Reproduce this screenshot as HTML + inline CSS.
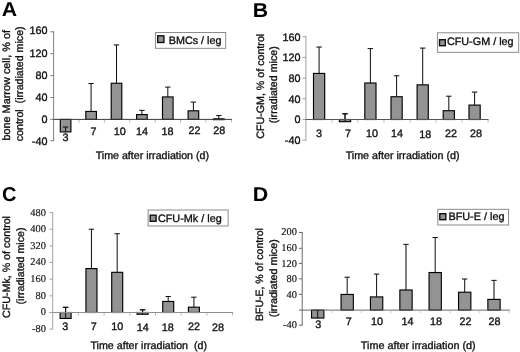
<!DOCTYPE html>
<html><head><meta charset="utf-8"><title>Figure</title>
<style>
html,body{margin:0;padding:0;background:#fff;}
body{width:520px;height:352px;overflow:hidden;font-family:"Liberation Sans", sans-serif;}
svg{display:block;will-change:transform;}
text.t{stroke:#0c0c0c;stroke-width:0.32px;}
text.s{stroke:#0c0c0c;stroke-width:0.12px;}
</style></head><body>
<svg width="520" height="352" viewBox="0 0 520 352" text-rendering="geometricPrecision">
<defs><filter id="soft" x="0" y="0" width="520" height="352" filterUnits="userSpaceOnUse"><feGaussianBlur stdDeviation="0.38"/></filter></defs>
<rect width="520" height="352" fill="#fff"/>
<g filter="url(#soft)">
<text transform="translate(1.7,16.2) scale(1.06,1)" font-family='"Liberation Sans", sans-serif' font-weight="700" font-size="20" fill="#000">A</text>
<text class="t" transform="translate(10.1,85.3) rotate(-90)" text-anchor="middle" font-family='"Liberation Sans", sans-serif' font-size="10.8" fill="#0c0c0c" textLength="110.6" lengthAdjust="spacingAndGlyphs" xml:space="preserve">bone Marrow cell, % of</text>
<text class="t" transform="translate(23.4,83.85) rotate(-90)" text-anchor="middle" font-family='"Liberation Sans", sans-serif' font-size="10.8" fill="#0c0c0c" textLength="114.9" lengthAdjust="spacingAndGlyphs" xml:space="preserve">control  (irradiated mice)</text>
<path d="M65.60 131.91V127.01M62.90 127.01H68.30" stroke="#0c0c0c" stroke-width="1" fill="none"/>
<rect x="60.30" y="119.40" width="10.60" height="12.51" fill="#939393" stroke="#050505" stroke-width="1.15"/>
<path d="M65.60 131.91V127.01M62.90 127.01H68.30" stroke="#0c0c0c" stroke-width="1" fill="none"/>
<path d="M91.10 111.46V83.54M88.40 83.54H93.80" stroke="#0c0c0c" stroke-width="1" fill="none"/>
<rect x="85.80" y="111.46" width="10.60" height="7.94" fill="#939393" stroke="#050505" stroke-width="1.15"/>
<path d="M116.50 83.27V44.94M113.80 44.94H119.20" stroke="#0c0c0c" stroke-width="1" fill="none"/>
<rect x="111.20" y="83.27" width="10.60" height="36.13" fill="#939393" stroke="#050505" stroke-width="1.15"/>
<path d="M141.90 114.58V110.37M139.20 110.37H144.60" stroke="#0c0c0c" stroke-width="1" fill="none"/>
<rect x="136.60" y="114.58" width="10.60" height="4.82" fill="#939393" stroke="#050505" stroke-width="1.15"/>
<path d="M167.80 96.95V87.10M165.10 87.10H170.50" stroke="#0c0c0c" stroke-width="1" fill="none"/>
<rect x="162.50" y="96.95" width="10.60" height="22.45" fill="#939393" stroke="#050505" stroke-width="1.15"/>
<path d="M193.40 110.80V102.10M190.70 102.10H196.10" stroke="#0c0c0c" stroke-width="1" fill="none"/>
<rect x="188.10" y="110.80" width="10.60" height="8.60" fill="#939393" stroke="#050505" stroke-width="1.15"/>
<path d="M218.80 118.85V115.57M216.10 115.57H221.50" stroke="#0c0c0c" stroke-width="1" fill="none"/>
<rect x="213.50" y="118.85" width="10.60" height="0.80" fill="#939393" stroke="#050505" stroke-width="1.15"/>
<path d="M53.6 31.30V141.20" stroke="#808080" stroke-width="1" fill="none"/>
<path d="M53.1 119.4H231.9" stroke="#3a3a3a" stroke-width="1" fill="none"/>
<path d="M50.300000000000004 140.70H53.6" stroke="#808080" stroke-width="1" fill="none"/>
<text class="t" x="47.4" y="145.40" text-anchor="end" font-family='"Liberation Sans", sans-serif' font-size="10.8" fill="#0c0c0c">-40</text>
<path d="M50.300000000000004 119.40H53.6" stroke="#808080" stroke-width="1" fill="none"/>
<text class="t" x="47.4" y="123.30" text-anchor="end" font-family='"Liberation Sans", sans-serif' font-size="10.8" fill="#0c0c0c">0</text>
<path d="M50.300000000000004 97.50H53.6" stroke="#808080" stroke-width="1" fill="none"/>
<text class="t" x="47.4" y="101.10" text-anchor="end" font-family='"Liberation Sans", sans-serif' font-size="10.8" fill="#0c0c0c">40</text>
<path d="M50.300000000000004 75.60H53.6" stroke="#808080" stroke-width="1" fill="none"/>
<text class="t" x="47.4" y="79.10" text-anchor="end" font-family='"Liberation Sans", sans-serif' font-size="10.8" fill="#0c0c0c">80</text>
<path d="M50.300000000000004 53.70H53.6" stroke="#808080" stroke-width="1" fill="none"/>
<text class="t" x="47.4" y="57.30" text-anchor="end" font-family='"Liberation Sans", sans-serif' font-size="10.8" fill="#0c0c0c">120</text>
<path d="M50.300000000000004 31.80H53.6" stroke="#808080" stroke-width="1" fill="none"/>
<text class="t" x="47.4" y="34.40" text-anchor="end" font-family='"Liberation Sans", sans-serif' font-size="10.8" fill="#0c0c0c">160</text>
<path d="M79.00 119.9v2.6" stroke="#b4b4b4" stroke-width="1" fill="none"/>
<path d="M104.40 119.9v2.6" stroke="#b4b4b4" stroke-width="1" fill="none"/>
<path d="M129.80 119.9v2.6" stroke="#b4b4b4" stroke-width="1" fill="none"/>
<path d="M155.20 119.9v2.6" stroke="#b4b4b4" stroke-width="1" fill="none"/>
<path d="M180.60 119.9v2.6" stroke="#b4b4b4" stroke-width="1" fill="none"/>
<path d="M206.00 119.9v2.6" stroke="#b4b4b4" stroke-width="1" fill="none"/>
<path d="M231.40 119.9v2.6" stroke="#b4b4b4" stroke-width="1" fill="none"/>
<text class="t" x="65.60" y="141.4" text-anchor="middle" font-family='"Liberation Sans", sans-serif' font-size="10.8" fill="#0c0c0c">3</text>
<text class="t" x="93.40" y="134.8" text-anchor="middle" font-family='"Liberation Sans", sans-serif' font-size="10.8" fill="#0c0c0c">7</text>
<text class="t" x="119.80" y="134.8" text-anchor="middle" font-family='"Liberation Sans", sans-serif' font-size="10.8" fill="#0c0c0c">10</text>
<text class="t" x="142.00" y="134.5" text-anchor="middle" font-family='"Liberation Sans", sans-serif' font-size="10.8" fill="#0c0c0c">14</text>
<text class="t" x="167.60" y="135.4" text-anchor="middle" font-family='"Liberation Sans", sans-serif' font-size="10.8" fill="#0c0c0c">18</text>
<text class="t" x="194.40" y="134.4" text-anchor="middle" font-family='"Liberation Sans", sans-serif' font-size="10.8" fill="#0c0c0c">22</text>
<text class="t" x="219.20" y="134.3" text-anchor="middle" font-family='"Liberation Sans", sans-serif' font-size="10.8" fill="#0c0c0c">28</text>
<text class="t" x="95.7" y="158.6" font-family='"Liberation Sans", sans-serif' font-size="10.8" fill="#0c0c0c" textLength="113.3" lengthAdjust="spacingAndGlyphs" xml:space="preserve">Time after irradiation (d)</text>
<rect x="155.4" y="32.5" width="70.29999999999998" height="15.799999999999997" fill="#fff" stroke="#7f7f7f" stroke-width="0.9"/>
<rect x="157.70" y="35.80" width="6.20" height="6.70" fill="#939393" stroke="#111" stroke-width="1.4"/>
<text class="t" x="168.8" y="43.5" font-family='"Liberation Sans", sans-serif' font-size="10.8" fill="#0c0c0c" textLength="52.69999999999999" lengthAdjust="spacingAndGlyphs">BMCs / leg</text>
<text transform="translate(252.8,16.9) scale(1.06,1)" font-family='"Liberation Sans", sans-serif' font-weight="700" font-size="20" fill="#000">B</text>
<text class="t" transform="translate(264.2,86.3) rotate(-90)" text-anchor="middle" font-family='"Liberation Sans", sans-serif' font-size="10.7" fill="#0c0c0c" textLength="105" lengthAdjust="spacingAndGlyphs" xml:space="preserve">CFU-GM, % of control</text>
<text class="t" transform="translate(277.0,84.8) rotate(-90)" text-anchor="middle" font-family='"Liberation Sans", sans-serif' font-size="10.7" fill="#0c0c0c" textLength="77" lengthAdjust="spacingAndGlyphs" xml:space="preserve">(irradiated mice)</text>
<path d="M319.10 73.44V47.05M316.40 47.05H321.80" stroke="#0c0c0c" stroke-width="1" fill="none"/>
<rect x="313.50" y="73.44" width="11.20" height="46.06" fill="#939393" stroke="#050505" stroke-width="1.15"/>
<path d="M345.00 121.67V113.81M342.30 113.81H347.70" stroke="#0c0c0c" stroke-width="1" fill="none"/>
<rect x="339.40" y="119.50" width="11.20" height="2.17" fill="#939393" stroke="#050505" stroke-width="1.15"/>
<path d="M345.00 121.67V113.81M342.30 113.81H347.70" stroke="#0c0c0c" stroke-width="1" fill="none"/>
<path d="M370.40 83.02V48.60M367.70 48.60H373.10" stroke="#0c0c0c" stroke-width="1" fill="none"/>
<rect x="364.80" y="83.02" width="11.20" height="36.48" fill="#939393" stroke="#050505" stroke-width="1.15"/>
<path d="M396.60 96.73V75.77M393.90 75.77H399.30" stroke="#0c0c0c" stroke-width="1" fill="none"/>
<rect x="391.00" y="96.73" width="11.20" height="22.77" fill="#939393" stroke="#050505" stroke-width="1.15"/>
<path d="M422.70 84.83V48.09M420.00 48.09H425.40" stroke="#0c0c0c" stroke-width="1" fill="none"/>
<rect x="417.10" y="84.83" width="11.20" height="34.67" fill="#939393" stroke="#050505" stroke-width="1.15"/>
<path d="M448.80 110.70V96.21M446.10 96.21H451.50" stroke="#0c0c0c" stroke-width="1" fill="none"/>
<rect x="443.20" y="110.70" width="11.20" height="8.80" fill="#939393" stroke="#050505" stroke-width="1.15"/>
<path d="M474.60 105.11V92.07M471.90 92.07H477.30" stroke="#0c0c0c" stroke-width="1" fill="none"/>
<rect x="469.00" y="105.11" width="11.20" height="14.39" fill="#939393" stroke="#050505" stroke-width="1.15"/>
<path d="M305.9 36.20V140.70" stroke="#a0a0a0" stroke-width="1" fill="none"/>
<path d="M305.4 119.5H488.6" stroke="#555" stroke-width="1" fill="none"/>
<path d="M302.59999999999997 140.20H305.9" stroke="#a0a0a0" stroke-width="1" fill="none"/>
<text class="t" x="300.4" y="144.00" text-anchor="end" font-family='"Liberation Sans", sans-serif' font-size="10.8" fill="#0c0c0c">-40</text>
<path d="M302.59999999999997 119.50H305.9" stroke="#a0a0a0" stroke-width="1" fill="none"/>
<text class="t" x="300.4" y="123.30" text-anchor="end" font-family='"Liberation Sans", sans-serif' font-size="10.8" fill="#0c0c0c">0</text>
<path d="M302.59999999999997 98.80H305.9" stroke="#a0a0a0" stroke-width="1" fill="none"/>
<text class="t" x="300.4" y="102.60" text-anchor="end" font-family='"Liberation Sans", sans-serif' font-size="10.8" fill="#0c0c0c">40</text>
<path d="M302.59999999999997 78.10H305.9" stroke="#a0a0a0" stroke-width="1" fill="none"/>
<text class="t" x="300.4" y="81.90" text-anchor="end" font-family='"Liberation Sans", sans-serif' font-size="10.8" fill="#0c0c0c">80</text>
<path d="M302.59999999999997 57.40H305.9" stroke="#a0a0a0" stroke-width="1" fill="none"/>
<text class="t" x="300.4" y="61.20" text-anchor="end" font-family='"Liberation Sans", sans-serif' font-size="10.8" fill="#0c0c0c">120</text>
<path d="M302.59999999999997 36.70H305.9" stroke="#a0a0a0" stroke-width="1" fill="none"/>
<text class="t" x="300.4" y="40.50" text-anchor="end" font-family='"Liberation Sans", sans-serif' font-size="10.8" fill="#0c0c0c">160</text>
<path d="M331.93 120.0v2.6" stroke="#b8b8b8" stroke-width="1" fill="none"/>
<path d="M357.96 120.0v2.6" stroke="#b8b8b8" stroke-width="1" fill="none"/>
<path d="M383.99 120.0v2.6" stroke="#b8b8b8" stroke-width="1" fill="none"/>
<path d="M410.01 120.0v2.6" stroke="#b8b8b8" stroke-width="1" fill="none"/>
<path d="M436.04 120.0v2.6" stroke="#b8b8b8" stroke-width="1" fill="none"/>
<path d="M462.07 120.0v2.6" stroke="#b8b8b8" stroke-width="1" fill="none"/>
<path d="M488.10 120.0v2.6" stroke="#b8b8b8" stroke-width="1" fill="none"/>
<text class="t" x="319.00" y="137.2" text-anchor="middle" font-family='"Liberation Sans", sans-serif' font-size="10.8" fill="#0c0c0c">3</text>
<text class="t" x="348.00" y="137.2" text-anchor="middle" font-family='"Liberation Sans", sans-serif' font-size="10.8" fill="#0c0c0c">7</text>
<text class="t" x="371.90" y="137.2" text-anchor="middle" font-family='"Liberation Sans", sans-serif' font-size="10.8" fill="#0c0c0c">10</text>
<text class="t" x="397.10" y="136.8" text-anchor="middle" font-family='"Liberation Sans", sans-serif' font-size="10.8" fill="#0c0c0c">14</text>
<text class="t" x="425.30" y="137.5" text-anchor="middle" font-family='"Liberation Sans", sans-serif' font-size="10.8" fill="#0c0c0c">18</text>
<text class="t" x="451.00" y="137.1" text-anchor="middle" font-family='"Liberation Sans", sans-serif' font-size="10.8" fill="#0c0c0c">22</text>
<text class="t" x="475.90" y="137.0" text-anchor="middle" font-family='"Liberation Sans", sans-serif' font-size="10.8" fill="#0c0c0c">28</text>
<text class="t" x="345.7" y="158.6" font-family='"Liberation Sans", sans-serif' font-size="10.8" fill="#0c0c0c" textLength="113.80000000000001" lengthAdjust="spacingAndGlyphs" xml:space="preserve">Time after irradiation (d)</text>
<rect x="437.4" y="32.8" width="81.30000000000007" height="19.5" fill="#fff" stroke="#7f7f7f" stroke-width="0.9"/>
<rect x="439.50" y="39.70" width="5.80" height="6.00" fill="#939393" stroke="#111" stroke-width="1.4"/>
<text class="t" x="446.9" y="45.2" font-family='"Liberation Sans", sans-serif' font-size="10.8" fill="#0c0c0c" textLength="66.70000000000005" lengthAdjust="spacingAndGlyphs">CFU-GM / leg</text>
<text transform="translate(2.0,201.2) scale(1.0,1)" font-family='"Liberation Sans", sans-serif' font-weight="700" font-size="20" fill="#000">C</text>
<text class="t" transform="translate(10.4,267) rotate(-90)" text-anchor="middle" font-family='"Liberation Sans", sans-serif' font-size="10.6" fill="#0c0c0c" textLength="102" lengthAdjust="spacingAndGlyphs" xml:space="preserve">CFU-Mk, % of control</text>
<text class="t" transform="translate(23.7,266) rotate(-90)" text-anchor="middle" font-family='"Liberation Sans", sans-serif' font-size="10.6" fill="#0c0c0c" textLength="77" lengthAdjust="spacingAndGlyphs" xml:space="preserve">(irradiated mice)</text>
<path d="M65.60 318.43V307.30M62.90 307.30H68.30" stroke="#0c0c0c" stroke-width="1" fill="none"/>
<rect x="60.10" y="312.50" width="11.00" height="5.93" fill="#939393" stroke="#050505" stroke-width="1.15"/>
<path d="M65.60 318.43V307.30M62.90 307.30H68.30" stroke="#0c0c0c" stroke-width="1" fill="none"/>
<path d="M91.45 268.59V229.25M88.75 229.25H94.15" stroke="#0c0c0c" stroke-width="1" fill="none"/>
<rect x="85.95" y="268.59" width="11.00" height="43.91" fill="#939393" stroke="#050505" stroke-width="1.15"/>
<path d="M117.20 272.33V233.72M114.50 233.72H119.90" stroke="#0c0c0c" stroke-width="1" fill="none"/>
<rect x="111.70" y="272.33" width="11.00" height="40.17" fill="#939393" stroke="#050505" stroke-width="1.15"/>
<path d="M142.60 314.27V309.79M139.90 309.79H145.30" stroke="#0c0c0c" stroke-width="1" fill="none"/>
<rect x="137.10" y="312.50" width="11.00" height="1.77" fill="#939393" stroke="#050505" stroke-width="1.15"/>
<path d="M142.60 314.27V309.79M139.90 309.79H145.30" stroke="#0c0c0c" stroke-width="1" fill="none"/>
<path d="M168.20 301.47V296.47M165.50 296.47H170.90" stroke="#0c0c0c" stroke-width="1" fill="none"/>
<rect x="162.70" y="301.47" width="11.00" height="11.03" fill="#939393" stroke="#050505" stroke-width="1.15"/>
<path d="M193.90 307.19V297.20M191.20 297.20H196.60" stroke="#0c0c0c" stroke-width="1" fill="none"/>
<rect x="188.40" y="307.19" width="11.00" height="5.31" fill="#939393" stroke="#050505" stroke-width="1.15"/>
<path d="M52.7 212.10V329.65" stroke="#a4a4a4" stroke-width="1" fill="none"/>
<path d="M52.2 312.5H233.1" stroke="#909090" stroke-width="1" fill="none"/>
<path d="M49.400000000000006 329.15H52.7" stroke="#a4a4a4" stroke-width="1" fill="none"/>
<text class="s" x="45.900000000000006" y="332.05" text-anchor="end" font-family='"Liberation Serif", serif' font-size="10.4" fill="#0c0c0c">-80</text>
<path d="M49.400000000000006 312.50H52.7" stroke="#a4a4a4" stroke-width="1" fill="none"/>
<text class="s" x="45.900000000000006" y="315.40" text-anchor="end" font-family='"Liberation Serif", serif' font-size="10.4" fill="#0c0c0c">0</text>
<path d="M49.400000000000006 295.85H52.7" stroke="#a4a4a4" stroke-width="1" fill="none"/>
<text class="s" x="45.900000000000006" y="298.75" text-anchor="end" font-family='"Liberation Serif", serif' font-size="10.4" fill="#0c0c0c">80</text>
<path d="M49.400000000000006 279.20H52.7" stroke="#a4a4a4" stroke-width="1" fill="none"/>
<text class="s" x="45.900000000000006" y="282.10" text-anchor="end" font-family='"Liberation Serif", serif' font-size="10.4" fill="#0c0c0c">160</text>
<path d="M49.400000000000006 262.55H52.7" stroke="#a4a4a4" stroke-width="1" fill="none"/>
<text class="s" x="45.900000000000006" y="265.45" text-anchor="end" font-family='"Liberation Serif", serif' font-size="10.4" fill="#0c0c0c">240</text>
<path d="M49.400000000000006 245.90H52.7" stroke="#a4a4a4" stroke-width="1" fill="none"/>
<text class="s" x="45.900000000000006" y="248.80" text-anchor="end" font-family='"Liberation Serif", serif' font-size="10.4" fill="#0c0c0c">320</text>
<path d="M49.400000000000006 229.25H52.7" stroke="#a4a4a4" stroke-width="1" fill="none"/>
<text class="s" x="45.900000000000006" y="232.15" text-anchor="end" font-family='"Liberation Serif", serif' font-size="10.4" fill="#0c0c0c">400</text>
<path d="M49.400000000000006 212.60H52.7" stroke="#a4a4a4" stroke-width="1" fill="none"/>
<text class="s" x="45.900000000000006" y="215.50" text-anchor="end" font-family='"Liberation Serif", serif' font-size="10.4" fill="#0c0c0c">480</text>
<path d="M78.40 313.0v2.6" stroke="#b8b8b8" stroke-width="1" fill="none"/>
<path d="M104.10 313.0v2.6" stroke="#b8b8b8" stroke-width="1" fill="none"/>
<path d="M129.80 313.0v2.6" stroke="#b8b8b8" stroke-width="1" fill="none"/>
<path d="M155.50 313.0v2.6" stroke="#b8b8b8" stroke-width="1" fill="none"/>
<path d="M181.20 313.0v2.6" stroke="#b8b8b8" stroke-width="1" fill="none"/>
<path d="M206.90 313.0v2.6" stroke="#b8b8b8" stroke-width="1" fill="none"/>
<path d="M232.60 313.0v2.6" stroke="#b8b8b8" stroke-width="1" fill="none"/>
<text class="t" x="65.30" y="330.2" text-anchor="middle" font-family='"Liberation Sans", sans-serif' font-size="10.8" fill="#0c0c0c">3</text>
<text class="t" x="93.70" y="330.4" text-anchor="middle" font-family='"Liberation Sans", sans-serif' font-size="10.8" fill="#0c0c0c">7</text>
<text class="t" x="117.20" y="330.4" text-anchor="middle" font-family='"Liberation Sans", sans-serif' font-size="10.8" fill="#0c0c0c">10</text>
<text class="t" x="142.80" y="330.5" text-anchor="middle" font-family='"Liberation Sans", sans-serif' font-size="10.8" fill="#0c0c0c">14</text>
<text class="t" x="167.80" y="330.5" text-anchor="middle" font-family='"Liberation Sans", sans-serif' font-size="10.8" fill="#0c0c0c">18</text>
<text class="t" x="194.10" y="329.9" text-anchor="middle" font-family='"Liberation Sans", sans-serif' font-size="10.8" fill="#0c0c0c">22</text>
<text class="t" x="218.10" y="330.5" text-anchor="middle" font-family='"Liberation Sans", sans-serif' font-size="10.8" fill="#0c0c0c">28</text>
<text class="t" x="90.4" y="348.6" font-family='"Liberation Sans", sans-serif' font-size="10.8" fill="#0c0c0c" textLength="116.69999999999999" lengthAdjust="spacingAndGlyphs" xml:space="preserve">Time after irradiation  (d)</text>
<rect x="148.1" y="210" width="80.0" height="16" fill="#fff" stroke="#7f7f7f" stroke-width="0.9"/>
<rect x="150.20" y="215.20" width="5.90" height="6.10" fill="#939393" stroke="#111" stroke-width="1.4"/>
<text class="t" x="157.9" y="222.1" font-family='"Liberation Sans", sans-serif' font-size="10.8" fill="#0c0c0c" textLength="63.79999999999998" lengthAdjust="spacingAndGlyphs">CFU-Mk / leg</text>
<text transform="translate(252.8,200.7) scale(1.07,1)" font-family='"Liberation Sans", sans-serif' font-weight="700" font-size="20" fill="#000">D</text>
<text class="t" transform="translate(263.3,274.6) rotate(-90)" text-anchor="middle" font-family='"Liberation Sans", sans-serif' font-size="10.6" fill="#0c0c0c" textLength="92.8" lengthAdjust="spacingAndGlyphs" xml:space="preserve">BFU-E, % of control</text>
<text class="t" transform="translate(277.1,278.2) rotate(-90)" text-anchor="middle" font-family='"Liberation Sans", sans-serif' font-size="10.6" fill="#0c0c0c" textLength="78" lengthAdjust="spacingAndGlyphs" xml:space="preserve">(irradiated mice)</text>
<path d="M317.70 318.03V310.48M315.00 310.48H320.40" stroke="#0c0c0c" stroke-width="1" fill="none"/>
<rect x="311.55" y="310.10" width="12.30" height="7.93" fill="#939393" stroke="#050505" stroke-width="1.15"/>
<path d="M317.70 318.03V310.48M315.00 310.48H320.40" stroke="#0c0c0c" stroke-width="1" fill="none"/>
<path d="M347.20 294.45V277.24M344.50 277.24H349.90" stroke="#0c0c0c" stroke-width="1" fill="none"/>
<rect x="341.05" y="294.45" width="12.30" height="15.65" fill="#939393" stroke="#050505" stroke-width="1.15"/>
<path d="M376.60 296.91V274.11M373.90 274.11H379.30" stroke="#0c0c0c" stroke-width="1" fill="none"/>
<rect x="370.45" y="296.91" width="12.30" height="13.19" fill="#939393" stroke="#050505" stroke-width="1.15"/>
<path d="M406.00 289.99V244.37M403.30 244.37H408.70" stroke="#0c0c0c" stroke-width="1" fill="none"/>
<rect x="399.85" y="289.99" width="12.30" height="20.11" fill="#939393" stroke="#050505" stroke-width="1.15"/>
<path d="M435.20 272.54V237.52M432.50 237.52H437.90" stroke="#0c0c0c" stroke-width="1" fill="none"/>
<rect x="429.05" y="272.54" width="12.30" height="37.56" fill="#939393" stroke="#050505" stroke-width="1.15"/>
<path d="M464.70 292.22V279.00M462.00 279.00H467.40" stroke="#0c0c0c" stroke-width="1" fill="none"/>
<rect x="458.55" y="292.22" width="12.30" height="17.88" fill="#939393" stroke="#050505" stroke-width="1.15"/>
<path d="M494.00 299.42V280.37M491.30 280.37H496.70" stroke="#0c0c0c" stroke-width="1" fill="none"/>
<rect x="487.85" y="299.42" width="12.30" height="10.68" fill="#939393" stroke="#050505" stroke-width="1.15"/>
<path d="M302.2 232.00V325.70" stroke="#6a6a6a" stroke-width="1" fill="none"/>
<path d="M301.7 310.1H509.9" stroke="#666" stroke-width="1" fill="none"/>
<path d="M298.9 325.20H302.2" stroke="#6a6a6a" stroke-width="1" fill="none"/>
<text class="s" x="296.9" y="328.10" text-anchor="end" font-family='"Liberation Serif", serif' font-size="10.4" fill="#0c0c0c">-40</text>
<path d="M298.9 310.10H302.2" stroke="#6a6a6a" stroke-width="1" fill="none"/>
<path d="M298.9 294.40H302.2" stroke="#6a6a6a" stroke-width="1" fill="none"/>
<text class="s" x="296.9" y="297.50" text-anchor="end" font-family='"Liberation Serif", serif' font-size="10.4" fill="#0c0c0c">40</text>
<path d="M298.9 278.80H302.2" stroke="#6a6a6a" stroke-width="1" fill="none"/>
<text class="s" x="296.9" y="282.30" text-anchor="end" font-family='"Liberation Serif", serif' font-size="10.4" fill="#0c0c0c">80</text>
<path d="M298.9 263.40H302.2" stroke="#6a6a6a" stroke-width="1" fill="none"/>
<text class="s" x="296.9" y="266.50" text-anchor="end" font-family='"Liberation Serif", serif' font-size="10.4" fill="#0c0c0c">120</text>
<path d="M298.9 248.30H302.2" stroke="#6a6a6a" stroke-width="1" fill="none"/>
<text class="s" x="296.9" y="251.10" text-anchor="end" font-family='"Liberation Serif", serif' font-size="10.4" fill="#0c0c0c">160</text>
<path d="M298.9 232.50H302.2" stroke="#6a6a6a" stroke-width="1" fill="none"/>
<text class="s" x="296.9" y="234.90" text-anchor="end" font-family='"Liberation Serif", serif' font-size="10.4" fill="#0c0c0c">200</text>
<path d="M331.80 310.6v2.6" stroke="#c8c8c8" stroke-width="1" fill="none"/>
<path d="M361.40 310.6v2.6" stroke="#c8c8c8" stroke-width="1" fill="none"/>
<path d="M391.00 310.6v2.6" stroke="#c8c8c8" stroke-width="1" fill="none"/>
<path d="M420.60 310.6v2.6" stroke="#c8c8c8" stroke-width="1" fill="none"/>
<path d="M450.20 310.6v2.6" stroke="#c8c8c8" stroke-width="1" fill="none"/>
<path d="M479.80 310.6v2.6" stroke="#c8c8c8" stroke-width="1" fill="none"/>
<path d="M509.40 310.6v2.6" stroke="#c8c8c8" stroke-width="1" fill="none"/>
<text class="t" x="318.30" y="327.5" text-anchor="middle" font-family='"Liberation Sans", sans-serif' font-size="10.8" fill="#0c0c0c">3</text>
<text class="t" x="348.75" y="325.4" text-anchor="middle" font-family='"Liberation Sans", sans-serif' font-size="10.8" fill="#0c0c0c">7</text>
<text class="t" x="376.90" y="325.4" text-anchor="middle" font-family='"Liberation Sans", sans-serif' font-size="10.8" fill="#0c0c0c">10</text>
<text class="t" x="407.60" y="325.2" text-anchor="middle" font-family='"Liberation Sans", sans-serif' font-size="10.8" fill="#0c0c0c">14</text>
<text class="t" x="435.90" y="325.2" text-anchor="middle" font-family='"Liberation Sans", sans-serif' font-size="10.8" fill="#0c0c0c">18</text>
<text class="t" x="465.60" y="325.2" text-anchor="middle" font-family='"Liberation Sans", sans-serif' font-size="10.8" fill="#0c0c0c">22</text>
<text class="t" x="494.40" y="325.2" text-anchor="middle" font-family='"Liberation Sans", sans-serif' font-size="10.8" fill="#0c0c0c">28</text>
<text class="t" x="360.8" y="348.75" font-family='"Liberation Sans", sans-serif' font-size="10.8" fill="#0c0c0c" textLength="114.80000000000001" lengthAdjust="spacingAndGlyphs" xml:space="preserve">Time after irradiation (d)</text>
<rect x="437.8" y="209.3" width="70.80000000000001" height="15.699999999999989" fill="#fff" stroke="#7f7f7f" stroke-width="0.9"/>
<rect x="439.80" y="213.70" width="6.00" height="6.00" fill="#939393" stroke="#111" stroke-width="1.4"/>
<text class="t" x="448.4" y="219.7" font-family='"Liberation Sans", sans-serif' font-size="10.8" fill="#0c0c0c" textLength="56.10000000000002" lengthAdjust="spacingAndGlyphs">BFU-E / leg</text>
</g>
</svg>
</body></html>
